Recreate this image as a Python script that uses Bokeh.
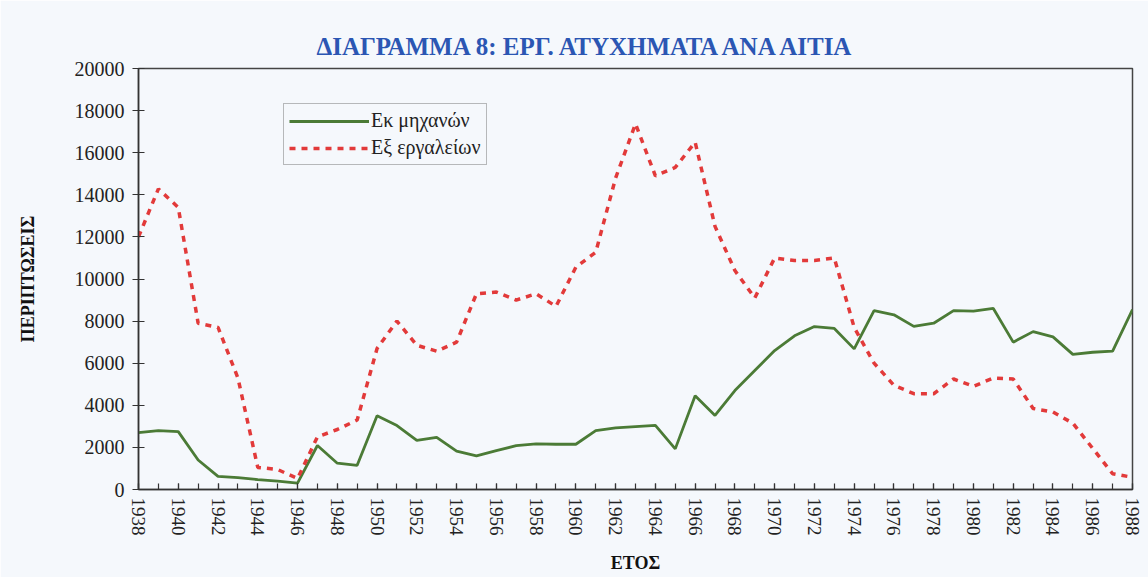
from bokeh.plotting import figure
from bokeh.models import Range1d, FixedTicker, NumeralTickFormatter, Legend, LegendItem, Title
from bokeh.embed import file_html
from bokeh.resources import INLINE

years = list(range(1938, 1989))
machines = [2700, 2800, 2750, 1400, 620, 560, 470, 400, 300, 2090,
            1250, 1150, 3500, 3040, 2330, 2480, 1820, 1600, 1850, 2080,
            2170, 2150, 2150, 2800, 2930, 2990, 3050, 1930, 4450, 3520,
            4700, 5650, 6600, 7300, 7740, 7650, 6680, 8500, 8300, 7750,
            7900, 8500, 8470, 8600, 7000, 7500, 7250, 6420, 6520, 6570,
            8550]
tools = [12000, 14280, 13400, 7900, 7700, 5300, 1050, 950, 520, 2500,
         2850, 3300, 6700, 8000, 6850, 6570, 7000, 9300, 9380, 9000,
         9300, 8700, 10560, 11270, 14800, 17370, 14900, 15300, 16500, 12500,
         10400, 9100, 11000, 10880, 10880, 11000, 7700, 6000, 4950, 4550,
         4550, 5250, 4900, 5300, 5250, 3850, 3680, 3150, 1950, 750,
         580]
x_tick_labels = list(range(1938, 1989, 2))
y_ticks = list(range(0, 20001, 2000))

title_text = "ΔΙΑΓΡΑΜΜΑ 8: ΕΡΓ. ΑΤΥΧΗΜΑΤΑ ΑΝΑ ΑΙΤΙΑ"
series_names = ["Εκ μηχανών", "Εξ εργαλείων"]

SERIF = "Liberation Serif"
BG = "#f5f8fc"

p = figure(width=1148, height=577, output_backend="svg", toolbar_location=None,
           x_range=Range1d(1938, 1988), y_range=Range1d(0, 20000),
           min_border_left=138, min_border_right=16, min_border_top=68, min_border_bottom=88,
           background_fill_color=BG, border_fill_color=BG)
p.grid.visible = False
p.outline_line_color = "#444444"
p.outline_line_width = 1.5

g = p.line(years, machines, line_color="#4b7b36", line_width=2.8)
r = p.line(years, tools, line_color="#e23a3a", line_width=3.5, line_dash="6 6")

xa = p.xaxis[0]
xa.ticker = FixedTicker(ticks=x_tick_labels, minor_ticks=years)
xa.major_label_orientation = "vertical"
xa.major_tick_in = 6
xa.major_tick_out = 0
xa.minor_tick_in = 6
xa.minor_tick_out = 0
xa.major_label_standoff = 8
xa.axis_label = "ΕΤΟΣ"
xa.axis_label_standoff = 14

ya = p.yaxis[0]
ya.ticker = FixedTicker(ticks=y_ticks, minor_ticks=[])
ya.formatter = NumeralTickFormatter(format="0")
ya.major_tick_in = 6
ya.major_tick_out = 6
ya.major_label_standoff = 8
ya.axis_label = "ΠΕΡΙΠΤΩΣΕΙΣ"
ya.axis_label_standoff = 34

for ax in (xa, ya):
    ax.axis_line_color = "#333333"
    ax.axis_line_width = 1.5
    ax.major_tick_line_color = "#333333"
    ax.minor_tick_line_color = "#333333"
    ax.major_tick_line_width = 1.2
    ax.minor_tick_line_width = 1.2
    ax.major_label_text_font = SERIF
    ax.major_label_text_color = "#222222"
    ax.axis_label_text_font = SERIF
    ax.axis_label_text_font_size = "18px"
    ax.axis_label_text_font_style = "bold"
    ax.axis_label_text_color = "#111111"
xa.major_label_text_font_size = "19px"
ya.major_label_text_font_size = "20px"

legend = Legend(items=[LegendItem(label=series_names[0], renderers=[g]),
                       LegendItem(label=series_names[1], renderers=[r])],
                location=(145, 324))
legend.label_text_font = "Liberation Serif, serif"
legend.label_text_font_size = "20px"
legend.label_text_color = "#222222"
legend.glyph_width = 80
legend.label_standoff = 2
legend.spacing = 4
legend.padding = 5
legend.margin = 0
legend.border_line_color = "#777777"
legend.border_line_width = 1
legend.background_fill_color = BG
legend.background_fill_alpha = 1
p.add_layout(legend, "center")

t = Title(text=title_text, align="left", offset=178, standoff=18,
          text_font=SERIF, text_font_size="25px", text_font_style="bold", text_color="#2b56b3")
p.add_layout(t, "above")

open("out.html", "w").write(file_html(p, INLINE))
